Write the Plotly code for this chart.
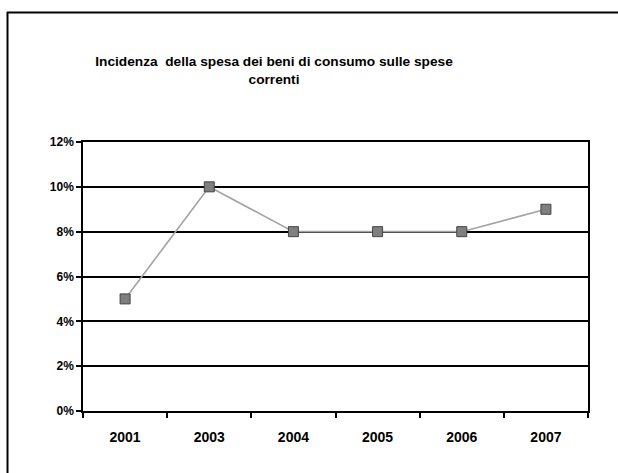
import plotly.graph_objects as go

# Data
years = ["2001", "2003", "2004", "2005", "2006", "2007"]
incidenza = [0.05, 0.10, 0.08, 0.08, 0.08, 0.09]
title_text = "Incidenza  della spesa dei beni di consumo sulle spese<br>correnti"

W, H = 618, 473
L, R, T, B = 83, 588, 142, 411  # plot area in pixels

def px_x(px):
    return (px - L) / (R - L)

def px_y(py):
    return (B - py) / (B - T)

fig = go.Figure()
fig.add_trace(go.Scatter(
    x=years, y=incidenza, mode="lines+markers",
    line=dict(color="#a3a3a3", width=1.6),
    marker=dict(symbol="square", size=10, color="#7f7f7f",
                line=dict(color="#444444", width=1)),
    showlegend=False, hoverinfo="x+y",
))

font = "Liberation Sans, Arial, sans-serif"
fig.update_layout(
    width=W, height=H,
    margin=dict(l=L, r=W - R, t=T, b=H - B, pad=0),
    paper_bgcolor="white", plot_bgcolor="white",
    font=dict(family=font, color="black"),
    title=dict(text="<b>" + title_text + "</b>", x=274 / W, xanchor="center",
               xref="container",
               y=1 - 66 / H, yanchor="middle", yref="container",
               font=dict(size=13.7, family=font, color="black")),
    xaxis=dict(type="category", range=[-0.5, 5.5], tickson="boundaries",
               ticks="outside", ticklen=5, tickwidth=1.5, tickcolor="black",
               showline=True, linecolor="black", linewidth=1.5, mirror=True,
               showgrid=False, ticklabelstandoff=12,
               tickfont=dict(size=14, family=font, weight="bold")),
    yaxis=dict(range=[0, 0.12], dtick=0.02, tickformat=".0%",
               ticks="outside", ticklen=5, tickwidth=1.5, tickcolor="black",
               showline=True, linecolor="black", linewidth=1.5, mirror=True,
               showgrid=True, gridcolor="black", gridwidth=1.5,
               zeroline=False,
               tickfont=dict(size=12, family=font, weight="bold")),
    shapes=[
        # chart frame (left and top edges)
        dict(type="line", xref="paper", yref="paper",
             x0=px_x(7.5), x1=px_x(7.5), y0=px_y(12), y1=px_y(480),
             line=dict(color="black", width=2)),
        dict(type="line", xref="paper", yref="paper",
             x0=px_x(7), x1=px_x(625), y0=px_y(12.5), y1=px_y(12.5),
             line=dict(color="black", width=2)),
    ],
)

fig.write_html("out.html")
